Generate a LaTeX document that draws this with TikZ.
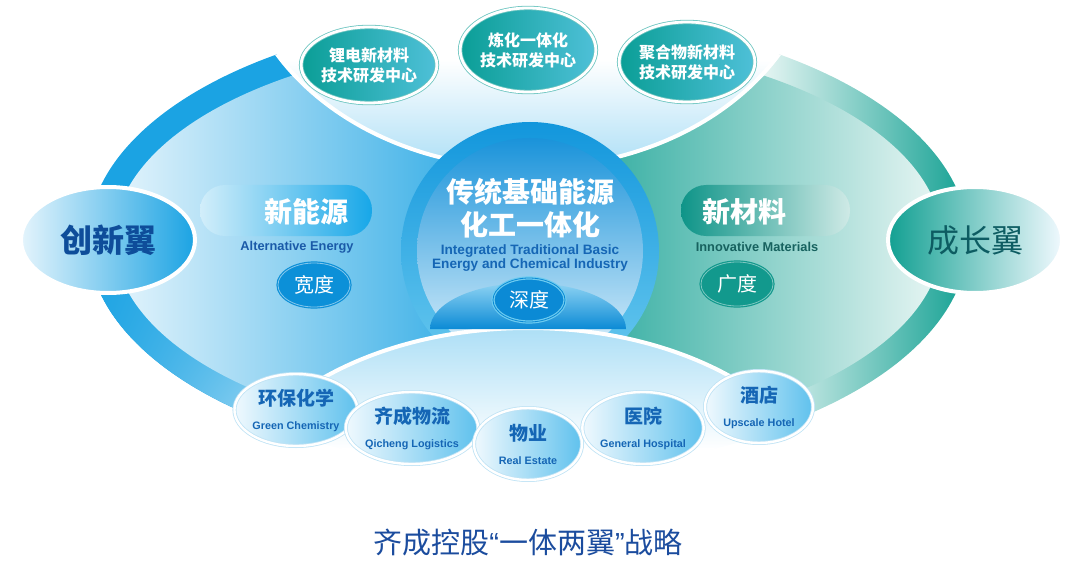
\documentclass[tikz,border=0pt]{standalone}
\usepackage{fontspec}
\setmainfont{Liberation Sans}
\newfontfamily\cjk{Noto Sans CJK SC}
\usetikzlibrary{shapes.geometric,shadings}

\definecolor{wingblue}{HTML}{1BA3E3}
\definecolor{wingpale}{HTML}{E4F4FC}
\definecolor{wingteal}{HTML}{12A092}
\definecolor{tealpale}{HTML}{E8F6F4}
\definecolor{lensblue}{HTML}{ADDFF6}
\definecolor{ringblue}{HTML}{1296DC}
\definecolor{ringlight}{HTML}{6CCBF0}
\definecolor{discblue}{HTML}{1A93DA}
\definecolor{discpale}{HTML}{E2F3FC}
\definecolor{deepblue}{HTML}{0B8AD5}
\definecolor{domelight}{HTML}{8ED3F3}
\definecolor{navy}{HTML}{0E4D9A}
\definecolor{titleblue}{HTML}{1B4C9E}
\definecolor{labelblue}{HTML}{1566B5}
\definecolor{engblue}{HTML}{1A5AA8}
\definecolor{engteal}{HTML}{17625F}
\definecolor{darkteal}{HTML}{0D5C62}
\definecolor{bubbleteal}{HTML}{0A9E96}
\definecolor{bubblecyan}{HTML}{4FC0D8}
\definecolor{bubblepale}{HTML}{F0F9FE}
\definecolor{bubblesky}{HTML}{5FC1ED}
\definecolor{haloblue}{HTML}{BFE3F5}
\definecolor{pillcyan}{HTML}{17A7E8}
\definecolor{pillpale}{HTML}{D2EEFA}
\definecolor{pillteal}{HTML}{0E9488}
\definecolor{pilltealpale}{HTML}{CFEAE6}
\definecolor{widthblue}{HTML}{0C90D8}
\definecolor{widthteal}{HTML}{12998D}

\begin{document}
\begin{tikzpicture}[x=0.5pt,y=-0.5pt,
  topbubble/.style={ellipse, draw=bubbleteal!60, double=white, double distance=1.4pt, line width=0.4pt,
    left color=bubbleteal, right color=bubblecyan, text=white, align=center,
    font=\cjk\bfseries\fontsize{8}{10}\selectfont, minimum width=66pt, minimum height=40pt, inner sep=0pt},
  lowbubble/.style={ellipse, draw=haloblue, double=white, double distance=1.2pt, line width=0.4pt,
    left color=bubblepale, right color=bubblesky, text=labelblue, align=center,
    minimum width=54pt, minimum height=36pt, inner sep=0pt},
  wingnode/.style={ellipse, draw=white, line width=2pt, minimum width=87pt, minimum height=53pt},
  degree/.style={ellipse, text=white, line width=0.6pt, double distance=0.4pt,
    minimum width=36pt, minimum height=22pt, inner sep=0pt, font=\cjk\fontsize{10}{12}\selectfont},
  cnbig/.style={text=white, font=\cjk\bfseries\fontsize{14}{16}\selectfont},
  ensmall/.style={font=\bfseries\fontsize{6.4}{7}\selectfont}]
\useasboundingbox (0,0) rectangle (1080,572);
\clip (0,0) rectangle (1080,572);

% left wing
\begin{scope}
\clip (0,0) rectangle (528,572);
\clip (528,240) ellipse [x radius=440, y radius=226];
\fill[wingblue] (0,0) rectangle (528,572);
\shade[upper left=wingblue, upper right=wingblue, lower left=wingblue, lower right=wingpale] (80,200) rectangle (330,470);
\clip (528,240) ellipse [x radius=414, y radius=200];
\shade[left color=wingpale, right color=wingblue] (114,0) rectangle (528,572);
\end{scope}

% right wing
\begin{scope}
\clip (528,0) rectangle (1080,572);
\clip (528,240) ellipse [x radius=440, y radius=226];
\fill[tealpale] (528,0) rectangle (1080,572);
\shade[left color=tealpale, right color=wingteal] (760,0) rectangle (970,572);
\clip (528,240) ellipse [x radius=414, y radius=200];
\shade[left color=wingteal, right color=tealpale] (528,0) rectangle (942,572);
\end{scope}

% top lens
\begin{scope}
\clip (528,240) ellipse [x radius=444, y radius=230];
\clip (528,-60) ellipse [x radius=290, y radius=228];
\fill[white] (0,0) rectangle (1080,62);
\shade[top color=white, bottom color=lensblue] (0,60) rectangle (1080,168);
\end{scope}
\begin{scope}
\clip (528,240) ellipse [x radius=440, y radius=226];
\draw[white, line width=2pt] (528,-60) ellipse [x radius=290, y radius=228];
\end{scope}

% core circle
\shade[top color=ringblue, bottom color=ringlight] (530,251) circle [radius=129];
\shade[top color=discblue, bottom color=discpale] (530,251) circle [radius=113];

% bottom lens
\begin{scope}
\clip (528,240) ellipse [x radius=444, y radius=230];
\clip (528,528) ellipse [x radius=310, y radius=200];
\shade[top color=lensblue, middle color=lensblue!30, bottom color=white] (0,328) rectangle (1080,450);
\fill[white] (0,448) rectangle (1080,572);
\end{scope}
\begin{scope}
\clip (528,240) ellipse [x radius=440, y radius=226];
\draw[white, line width=2pt] (528,528) ellipse [x radius=310, y radius=200];
\end{scope}

% dome
\shade[top color=domelight, bottom color=deepblue] (430,329) arc [start angle=180, end angle=360, x radius=98, y radius=46] -- cycle;

% wings
\node[wingnode, left color=wingpale, right color=wingblue, text=navy, font=\cjk\bfseries\fontsize{16}{18}\selectfont] (wingL) at (108,240) {创新翼};
\node[wingnode, left color=wingteal, right color=bubblepale, text=darkteal, font=\cjk\fontsize{16}{18}\selectfont] (wingR) at (975,240) {成长翼};

% left label
\shade[left color=pillpale, right color=pillcyan, rounded corners=12.5pt] (200,185) rectangle (372,236);
\node[cnbig] (energy) at (306,212) {新能源};
\node[ensmall, text=engblue] (energy-en) at (297,247) {Alternative Energy};
\node[degree, draw=widthblue, double=widthblue!50!white, fill=widthblue] (breadth) at (314,285) {宽度};

% right label
\shade[left color=pillteal, right color=pilltealpale, rounded corners=12.5pt] (681,185) rectangle (850,236);
\node[cnbig] (materials) at (744,212) {新材料};
\node[ensmall, text=engteal] (materials-en) at (757,247) {Innovative Materials};
\node[degree, draw=widthteal, double=widthteal!55!white, fill=widthteal] (range) at (737,284) {广度};

% core
\node[cnbig] (core1) at (530,192) {传统基础能源};
\node[cnbig] (core2) at (530,225) {化工一体化};
\node[align=center, text=labelblue, font=\bfseries\fontsize{6.8}{7}\selectfont] (core-en) at (530,258) {Integrated Traditional Basic\\Energy and Chemical Industry};
\node[degree, draw=ringlight, double=deepblue, fill=deepblue] (depth) at (529,300) {深度};

% top centres
\node[topbubble, minimum height=38pt] (lithium) at (369,65) {锂电新材料\\技术研发中心};
\node[topbubble, minimum height=42pt] (refining) at (528,50) {炼化一体化\\技术研发中心};
\node[topbubble] (polymer) at (687,62) {聚合物新材料\\技术研发中心};

% bottom businesses
\node[lowbubble] (chem) at (296,410) {{\cjk\bfseries\fontsize{9.5}{11}\selectfont 环保化学}\\{\bfseries\fontsize{5.4}{6.5}\selectfont Green Chemistry}};
\node[lowbubble] (logistics) at (412,428) {{\cjk\bfseries\fontsize{9.5}{11}\selectfont 齐成物流}\\{\bfseries\fontsize{5.4}{6.5}\selectfont Qicheng Logistics}};
\node[lowbubble] (estate) at (528,444) {{\cjk\bfseries\fontsize{9.5}{11}\selectfont 物业}\\{\bfseries\fontsize{5.4}{6.5}\selectfont Real Estate}};
\node[lowbubble] (hospital) at (643,428) {{\cjk\bfseries\fontsize{9.5}{11}\selectfont 医院}\\{\bfseries\fontsize{5.4}{6.5}\selectfont General Hospital}};
\node[lowbubble] (hotel) at (759,407) {{\cjk\bfseries\fontsize{9.5}{11}\selectfont 酒店}\\{\bfseries\fontsize{5.4}{6.5}\selectfont Upscale Hotel}};

\node[text=titleblue, font=\cjk\fontsize{14.5}{16}\selectfont] (title) at (528,543) {齐成控股{\normalfont “}一体两翼{\normalfont ”}战略};
\end{tikzpicture}
\end{document}
